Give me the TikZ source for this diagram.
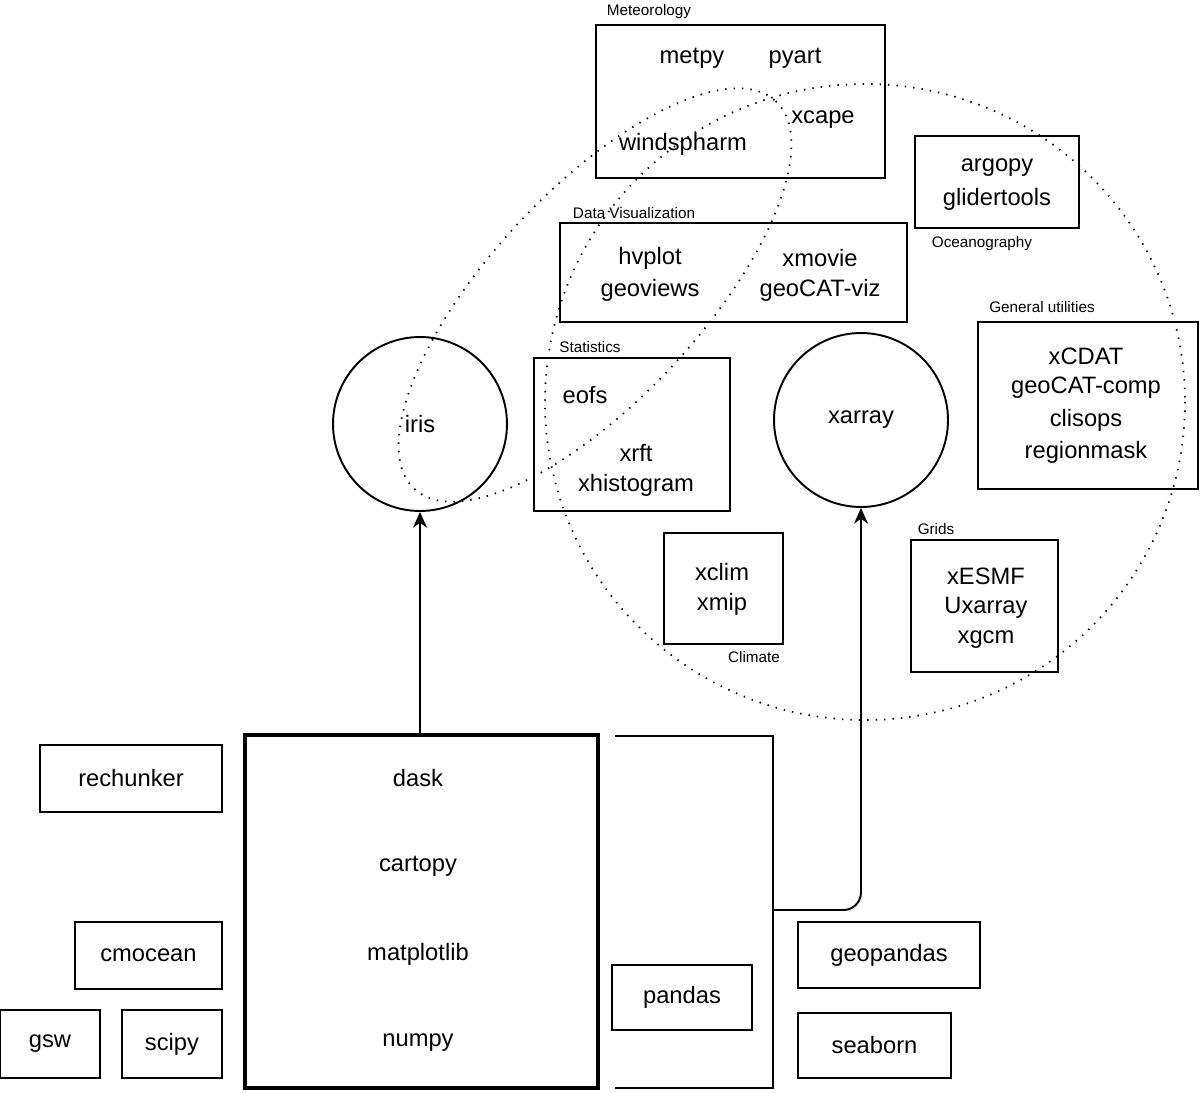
\documentclass[tikz,border=0pt]{standalone}
\usepackage{fontspec}
\setmainfont{Liberation Sans}
\usetikzlibrary{fit,arrows.meta}
\begin{document}
\begin{tikzpicture}[x=0.02cm,y=-0.02cm,
  box/.style={draw, line width=1.1pt, inner sep=0pt},
  txt/.style={font=\fontsize{13.5}{15}\selectfont, inner sep=1pt},
  lbl/.style={font=\fontsize{8.7}{10}\selectfont, inner sep=1pt},
  circ/.style={draw, line width=1.1pt, circle, minimum size=3.48cm, font=\fontsize{13.5}{15}\selectfont},
  dots/.style={line width=1pt, dash pattern=on 0.8pt off 4pt},
  arr/.style={line width=1.1pt, -{Stealth[length=9pt,width=8pt]}}]
\useasboundingbox (0,0) rectangle (1200,1092);
% dotted groupings
\draw[dots] (865,402) ellipse [x radius=320, y radius=318];
\draw[dots, rotate around={47:(595,295)}] (595,295) ellipse [x radius=265, y radius=105];
% Meteorology
\node[box, fit={(596,25)(885,178)}] (met) {};
\node[lbl] (metl) at (649,12) {Meteorology};
\node[txt] (metpy) at (692,58) {metpy};
\node[txt] (pyart) at (795,58) {pyart};
\node[txt] (xcape) at (823,120) {xcape};
\node[txt] (winds) at (683,144) {windspharm};
% Oceanography
\node[box, fit={(915,136)(1079,228)}] (oce) {};
\node[txt] (argopy) at (997,168) {argopy};
\node[txt] (glider) at (997,199) {glidertools};
\node[lbl] (ocel) at (982,244) {Oceanography};
% Data Visualization
\node[box, fit={(560,223)(907,322)}] (viz) {};
\node[lbl] (vizl) at (634,213) {Data Visualization};
\node[txt] (hvplot) at (650,258) {hvplot};
\node[txt] (geoviews) at (650,290) {geoviews};
\node[txt] (xmovie) at (820,258) {xmovie};
\node[txt] (geocatviz) at (820,290) {geoCAT-viz};
% General utilities
\node[box, fit={(978,322)(1198,489)}] (gen) {};
\node[lbl] (genl) at (1042,307) {General utilities};
\node[txt] (xcdat) at (1086,356) {xCDAT};
\node[txt] (geocatcomp) at (1086,388) {geoCAT-comp};
\node[txt] (clisops) at (1086,420) {clisops};
\node[txt] (regionmask) at (1086,452) {regionmask};
% Statistics
\node[box, fit={(534,358)(730,511)}] (stat) {};
\node[lbl] (statl) at (590,347) {Statistics};
\node[txt] (eofs) at (585,395) {eofs};
\node[txt] (xrft) at (636,453) {xrft};
\node[txt] (xhist) at (636,485) {xhistogram};
% circles
\node[circ] (iris) at (420,424) {iris};
\node[circ] (xarray) at (861,420) {xarray};
% Climate
\node[box, fit={(664,533)(783,644)}] (clim) {};
\node[txt] (xclim) at (722,572) {xclim};
\node[txt] (xmip) at (722,604) {xmip};
\node[lbl] (climl) at (754,657) {Climate};
% Grids
\node[box, fit={(911,540)(1058,672)}] (grid) {};
\node[lbl] (gridl) at (936,529) {Grids};
\node[txt] (xesmf) at (986,576) {xESMF};
\node[txt] (uxarray) at (986,608) {Uxarray};
\node[txt] (xgcm) at (986,640) {xgcm};
% core stack
\node[draw, line width=2.2pt, inner sep=0pt, fit={(245,735)(598,1088)}] (core) {};
\node[txt] (dask) at (418,778) {dask};
\node[txt] (cartopy) at (418,866) {cartopy};
\node[txt] (mpl) at (418,954) {matplotlib};
\node[txt] (numpy) at (418,1043) {numpy};
% bracket
\coordinate (b1) at (615,736);
\coordinate (b2) at (773,736);
\coordinate (b3) at (773,1088);
\coordinate (b4) at (615,1088);
\coordinate (bm) at (773,910);
\draw[line width=1.1pt] (b1) -- (b2) -- (b3) -- (b4);
\draw[arr, rounded corners=10pt] (bm) -| (xarray.south);
\draw[arr] (core.north -| iris.south) -- (iris.south);
% other boxes
\node[box, txt, fit={(40,745)(222,812)}, inner sep=0pt] (rech) {};
\node[txt] at (rech.center) {rechunker};
\node[box, fit={(75,922)(222,989)}] (cmo) {};
\node[txt] at (cmo.center) {cmocean};
\node[box, fit={(0,1010)(100,1078)}] (gsw) {};
\node[txt] at (gsw.center) {gsw};
\node[box, fit={(122,1010)(222,1078)}] (scipy) {};
\node[txt] at (scipy.center) {scipy};
\node[box, fit={(612,965)(752,1030)}] (pandas) {};
\node[txt] at (pandas.center) {pandas};
\node[box, fit={(798,922)(980,988)}] (geopd) {};
\node[txt] at (geopd.center) {geopandas};
\node[box, fit={(798,1013)(951,1078)}] (sea) {};
\node[txt] at (sea.center) {seaborn};
\end{tikzpicture}
\end{document}
